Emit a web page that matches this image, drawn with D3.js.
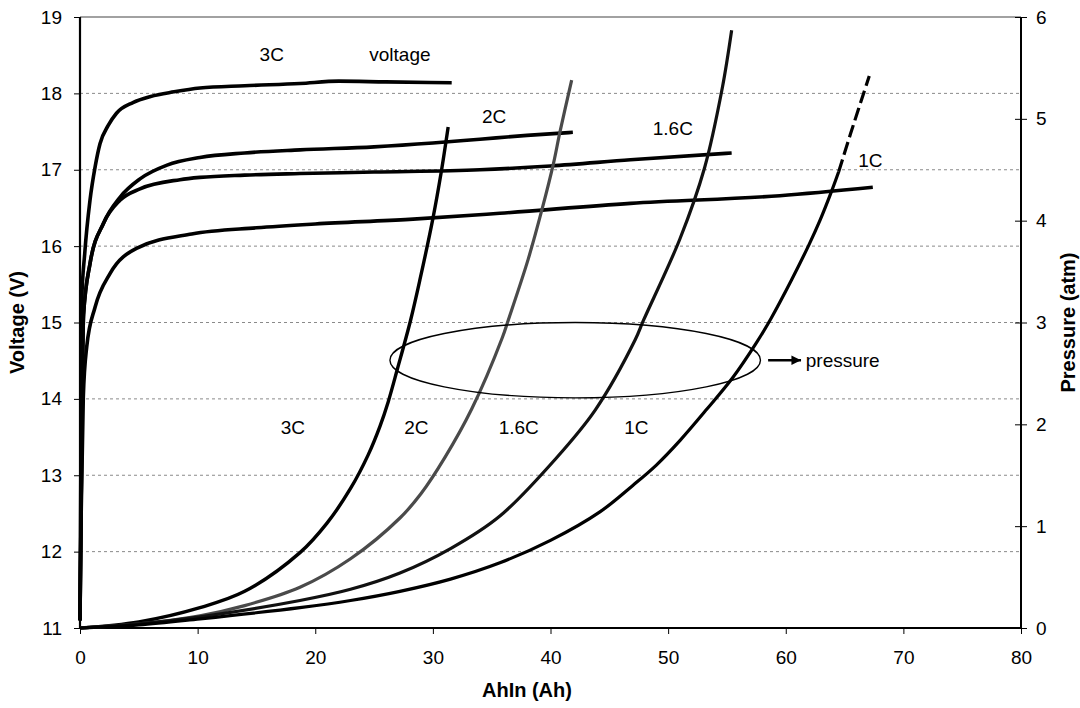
<!DOCTYPE html>
<html>
<head>
<meta charset="utf-8">
<script src="https://cdn.jsdelivr.net/npm/d3@7"></script>
<style>
body { margin: 0; background: #fff; }
text { font-family: "Liberation Sans", Arial, sans-serif; fill: #000; }
</style>
</head>
<body>
<script>
// data: [AhIn (Ah), value]
const voltage3C = [[0, 11.1], [0.15, 15.3], [0.4, 15.9], [0.85, 16.6], [1.3, 17.05], [1.7, 17.34], [2.4, 17.58], [3.1, 17.74], [4.5, 17.88], [6, 17.96], [8, 18.02], [10.2, 18.07], [14, 18.1], [18.7, 18.13], [22, 18.16], [26, 18.15], [31.6, 18.14]];
const voltage2C = [[0, 11.1], [0.15, 13.5], [0.3, 15.1], [0.85, 15.77], [2.0, 16.3], [3.4, 16.64], [5.1, 16.88], [7.4, 17.06], [10.2, 17.16], [14, 17.22], [18.7, 17.26], [25, 17.3], [30, 17.35], [34, 17.4], [38, 17.45], [41.9, 17.49]];
const voltage16C = [[0, 11.1], [0.15, 13.5], [0.3, 15.1], [0.85, 15.77], [2.0, 16.3], [3.4, 16.6], [5.1, 16.75], [8.5, 16.87], [10.2, 16.9], [14, 16.93], [18.7, 16.95], [25, 16.97], [34, 17.0], [40, 17.05], [46.8, 17.13], [55.4, 17.22]];
const voltage1C = [[0, 11.1], [0.1, 12.5], [0.28, 14.02], [0.57, 14.68], [1.28, 15.2], [2.55, 15.64], [4.8, 15.97], [9.5, 16.16], [15, 16.24], [20, 16.29], [28, 16.35], [35.7, 16.43], [46.8, 16.56], [59.5, 16.66], [67.4, 16.77]];

const pressure3C = [[0, 0], [5, 0.06], [10.2, 0.2], [14, 0.36], [18.7, 0.74], [21, 1.03], [23, 1.37], [24.5, 1.7], [25.5, 1.98], [26.2, 2.22], [27, 2.55], [28.1, 3.02], [28.9, 3.42], [30, 4.02], [30.7, 4.47], [31.3, 4.92]];
const pressure2C = [[0, 0], [5, 0.04], [10.2, 0.12], [14, 0.22], [18.7, 0.4], [23, 0.68], [27.2, 1.08], [29, 1.32], [31, 1.67], [33.3, 2.15], [35.9, 2.85], [36.4, 3.02], [38.1, 3.62], [39.3, 4.12], [40.25, 4.56], [40.8, 4.87], [41.8, 5.38]];
const pressure16C = [[0, 0], [5, 0.04], [10.2, 0.11], [18.7, 0.27], [23, 0.38], [27.2, 0.54], [31.5, 0.78], [35.7, 1.1], [40.5, 1.67], [43.8, 2.14], [47.2, 2.83], [47.9, 3.02], [51, 3.82], [53.1, 4.52], [54.6, 5.3], [55.4, 5.87]];
const pressure1C = [[0, 0], [5, 0.03], [10.2, 0.09], [18.7, 0.2], [23, 0.27], [27.2, 0.36], [31.5, 0.48], [35.7, 0.64], [40, 0.86], [44.2, 1.14], [47, 1.4], [49, 1.6], [51, 1.84], [53.3, 2.15], [55.5, 2.46], [57.5, 2.8], [58.7, 3.03], [60.5, 3.42], [62, 3.77], [62.9, 4.0], [63.9, 4.29], [64.5, 4.48], [65.5, 4.85], [67.1, 5.42]];
const dashFrom = 64.5; // top of the 1C pressure curve is dashed

const xTicks = [0, 10, 20, 30, 40, 50, 60, 70, 80];
const voltTicks = [11, 12, 13, 14, 15, 16, 17, 18, 19];
const pressTicks = [0, 1, 2, 3, 4, 5, 6];

// [text, Ah, value on the voltage axis]
const topLabels = [["3C", 16.3, 18.51], ["voltage", 27.2, 18.51], ["2C", 35.2, 17.7], ["1.6C", 50.4, 17.54], ["1C", 67.2, 17.12]];
const bottomLabels = [["3C", 18.1, 13.62], ["2C", 28.6, 13.62], ["1.6C", 37.3, 13.62], ["1C", 47.3, 13.62]];

const size_graph = {x: 1080, y: 708},
	margin = {top: 17, bot: 80, right: 59, left: 80},
	width = size_graph.x - margin.left - margin.right,
	height = size_graph.y - margin.top - margin.bot;

const x = d3.scaleLinear().domain([0, 80]).range([0, width]);
const yV = d3.scaleLinear().domain([11, 19]).range([height, 0]);
const yP = d3.scaleLinear().domain([0, 6]).range([height, 0]);

const svg = d3.select("body").append("svg")
	.attr("width", size_graph.x)
	.attr("height", size_graph.y)
	.append("g").attr("transform", `translate(${margin.left}, ${margin.top})`);

// dashed grid on the voltage ticks
svg.selectAll(".grid")
	.data(voltTicks.filter(d => d > 11 && d < 19))
	.enter().append("line")
	.attr("x1", 0).attr("x2", width)
	.attr("y1", d => yV(d)).attr("y2", d => yV(d))
	.attr("stroke", "#8a8a8a").attr("stroke-width", 1)
	.attr("stroke-dasharray", "3,3");

// frame
svg.append("line").attr("x1", 0).attr("x2", width).attr("y1", 0).attr("y2", 0)
	.attr("stroke", "#444").attr("stroke-width", 1.2);

// axes
const styleAxis = g => {
	g.select(".domain").remove();
	g.selectAll("text").style("font-size", "19px").style("font-family", "'Liberation Sans', Arial, sans-serif").attr("fill", "#000");
	g.selectAll("line").attr("stroke", "#000");
};

svg.append("g")
	.attr("transform", `translate(0, ${height})`)
	.call(d3.axisBottom(x).tickValues(xTicks).tickSize(6).tickPadding(17))
	.call(styleAxis);

svg.append("g")
	.call(d3.axisLeft(yV).tickValues(voltTicks).tickSize(6).tickPadding(12))
	.call(styleAxis);

const right = svg.append("g")
	.attr("transform", `translate(${width}, 0)`)
	.call(d3.axisRight(yP).tickValues(pressTicks).tickFormat(d3.format("d")).tickSize(6).tickPadding(9))
	.call(styleAxis);
right.selectAll(".tick line").attr("x1", -6);

svg.append("line").attr("x1", 0).attr("x2", 0).attr("y1", 0).attr("y2", height)
	.attr("stroke", "#000").attr("stroke-width", 2.2);
svg.append("line").attr("x1", width).attr("x2", width).attr("y1", 0).attr("y2", height)
	.attr("stroke", "#000").attr("stroke-width", 2);
svg.append("line").attr("x1", 0).attr("x2", width).attr("y1", height).attr("y2", height)
	.attr("stroke", "#000").attr("stroke-width", 2.2);

// curves
const lineV = d3.line().x(d => x(d[0])).y(d => yV(d[1])).curve(d3.curveMonotoneX);
const lineP = d3.line().x(d => x(d[0])).y(d => yP(d[1])).curve(d3.curveCatmullRom.alpha(0.5));

const add_curve = (data, line, color, w) =>
	svg.append("path")
		.attr("d", line(data))
		.attr("fill", "none")
		.attr("stroke", color)
		.attr("stroke-width", w)
		.attr("stroke-linejoin", "round");

[voltage3C, voltage2C, voltage16C, voltage1C].forEach(d => add_curve(d, lineV, "#000", 3.6));

add_curve(pressure3C, lineP, "#000", 3.4);
add_curve(pressure2C, lineP, "#4a4a4a", 3.2);
add_curve(pressure16C, lineP, "#111", 3.2);
add_curve(pressure1C.filter(d => d[0] <= dashFrom), lineP, "#000", 3.2);
add_curve(pressure1C.filter(d => d[0] >= dashFrom), lineP, "#000", 3.2)
	.attr("stroke-dasharray", "13,5");

// labels inside the plot
svg.selectAll(".lab")
	.data(topLabels.concat(bottomLabels))
	.enter().append("text")
	.attr("x", d => x(d[1]))
	.attr("y", d => yV(d[2]))
	.attr("text-anchor", "middle")
	.attr("dominant-baseline", "central")
	.style("font-size", "19px")
	.text(d => d[0]);

// ellipse marking the pressure curves, with arrow
const ell = {cx: 42.1, cy: 2.63, rx: 15.75, ry: 0.37};
svg.append("ellipse")
	.attr("cx", x(ell.cx)).attr("cy", yP(ell.cy))
	.attr("rx", x(ell.rx) - x(0)).attr("ry", yP(0) - yP(ell.ry))
	.attr("fill", "none").attr("stroke", "#000").attr("stroke-width", 1.4);

svg.append("defs").append("marker")
	.attr("id", "head").attr("viewBox", "0 0 10 10")
	.attr("refX", 10).attr("refY", 5)
	.attr("markerWidth", 4).attr("markerHeight", 4)
	.attr("orient", "auto")
	.append("path").attr("d", "M0,0 L10,5 L0,10 Z").attr("fill", "#000");

svg.append("line")
	.attr("x1", x(58.5)).attr("x2", x(61.3))
	.attr("y1", yP(ell.cy)).attr("y2", yP(ell.cy))
	.attr("stroke", "#000").attr("stroke-width", 2.4)
	.attr("marker-end", "url(#head)");

svg.append("text")
	.attr("x", x(61.7)).attr("y", yP(ell.cy))
	.attr("dominant-baseline", "central")
	.style("font-size", "19px")
	.text("pressure");

// axis titles
svg.append("text")
	.attr("transform", `translate(${17 - margin.left}, ${yV(15)}) rotate(-90)`)
	.attr("text-anchor", "middle")
	.attr("dominant-baseline", "central")
	.style("font-size", "20px").style("font-weight", "bold")
	.text("Voltage (V)");

svg.append("text")
	.attr("transform", `translate(${width + 47}, ${yV(15)}) rotate(-90)`)
	.attr("text-anchor", "middle")
	.attr("dominant-baseline", "central")
	.style("font-size", "20px").style("font-weight", "bold")
	.text("Pressure (atm)");

svg.append("text")
	.attr("x", x(38)).attr("y", height + 62)
	.attr("text-anchor", "middle")
	.attr("dominant-baseline", "central")
	.style("font-size", "20px").style("font-weight", "bold")
	.text("AhIn (Ah)");
</script>
</body>
</html>
